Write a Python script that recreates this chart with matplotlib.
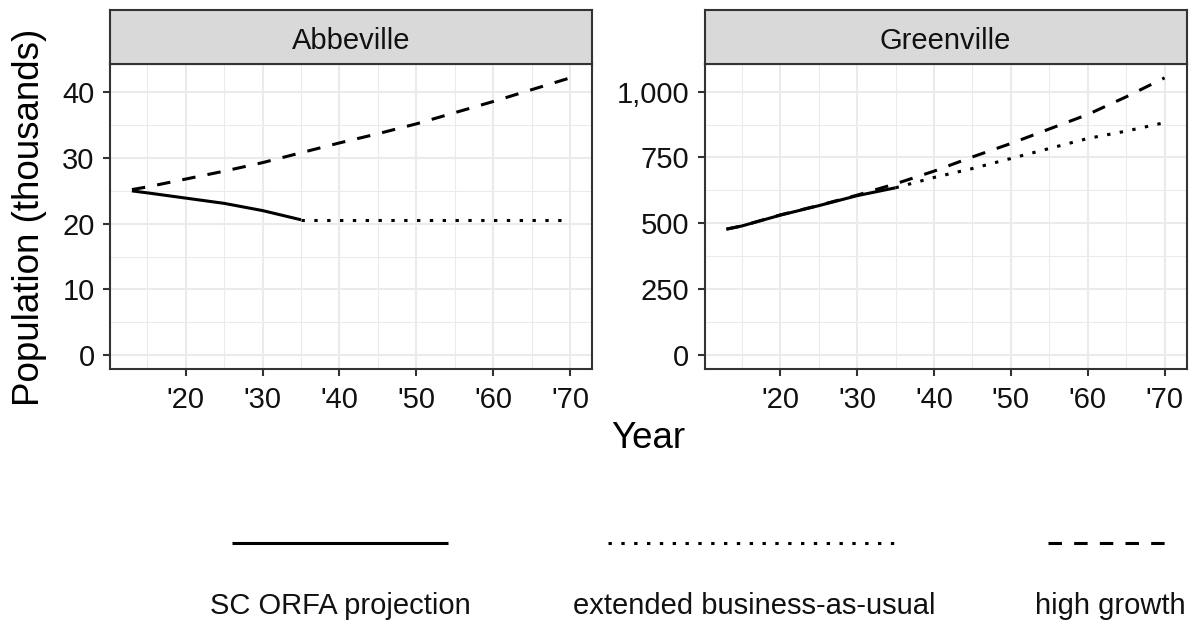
import matplotlib
matplotlib.use("Agg")
import matplotlib.pyplot as plt
from matplotlib.lines import Line2D
from matplotlib.ticker import FuncFormatter, MultipleLocator
import numpy as np

plt.rcParams['font.family'] = ['Liberation Sans', 'DejaVu Sans']

# data (population, thousands)
years_orfa = [2013, 2015, 2020, 2025, 2030, 2035]
years_bau = [2035, 2040, 2045, 2050, 2055, 2060, 2065, 2070]
years_high = [2013, 2015, 2020, 2025, 2030, 2035, 2040, 2045, 2050, 2055, 2060, 2065, 2070]

abb_orfa = [25.0, 24.7, 23.9, 23.1, 22.0, 20.6]
abb_bau = [20.6, 20.6, 20.6, 20.6, 20.6, 20.6, 20.6, 20.6]
abb_high = [25.2, 25.6, 26.8, 28.0, 29.3, 30.8, 32.3, 33.7, 35.2, 36.9, 38.6, 40.4, 42.2]

grv_orfa = [478, 490, 531, 567, 605, 635]
grv_bau = [635, 674, 708, 746, 784, 822, 850, 882]
grv_high = [478, 490, 532, 568, 607, 650, 698, 752, 803, 858, 913, 980, 1052]

counties = ['Abbeville', 'Greenville']
panels = [(abb_orfa, abb_bau, abb_high, 10, 5),
          (grv_orfa, grv_bau, grv_high, 250, 125)]

xticks = [2020, 2030, 2040, 2050, 2060, 2070]
xtick_labels = ["'20", "'30", "'40", "'50", "'60", "'70"]
legend_labels = ['SC ORFA projection', 'extended business-as-usual', 'high growth']

W, H = 1191, 620
fig = plt.figure(figsize=(W / 100, H / 100), dpi=100)

dark = '#333333'
lw = 2.2
styles = [dict(linestyle='-'), dict(dashes=[1.1, 3.1]), dict(dashes=[4.4, 4.0])]

lefts = [110, 704.5]
for i, (orfa, bau, high, major, minor) in enumerate(panels):
    x0 = lefts[i] / W
    ax = fig.add_axes([x0, 1 - 369 / H, 482 / W, 305 / H])
    ax.plot(years_orfa, orfa, color='black', lw=lw, solid_capstyle='butt', **styles[0])
    ax.plot(years_bau, bau, color='black', lw=lw, dash_capstyle='butt', **styles[1])
    ax.plot(years_high, high, color='black', lw=lw, dash_capstyle='butt', **styles[2])

    xmin, xmax = min(years_high), max(years_high)
    xr = xmax - xmin
    ax.set_xlim(xmin - 0.05 * xr, xmax + 0.05 * xr)
    ymax = max(high)
    ax.set_ylim(-0.05 * ymax, 1.05 * ymax)

    ax.set_xticks(xticks)
    ax.set_xticklabels(xtick_labels)
    ax.xaxis.set_minor_locator(MultipleLocator(10, offset=5))
    ax.yaxis.set_major_locator(MultipleLocator(major))
    ax.yaxis.set_minor_locator(MultipleLocator(major, offset=minor))
    ax.yaxis.set_major_formatter(FuncFormatter(lambda v, p: f'{v:,.0f}'))

    ax.grid(which='major', color='#EBEBEB', lw=1.5)
    ax.grid(which='minor', color='#EBEBEB', lw=0.75)
    ax.set_axisbelow(True)
    for s in ax.spines.values():
        s.set_color(dark)
        s.set_linewidth(1.5)
    ax.tick_params(which='major', length=5, width=1.5, color=dark,
                   labelsize=21, labelcolor='#111111')
    ax.tick_params(axis='y', pad=6)
    ax.tick_params(axis='x', pad=7)
    ax.tick_params(which='minor', length=0)

    # facet strip
    sax = fig.add_axes([x0, 1 - 64 / H, 482 / W, 54.5 / H])
    sax.set_facecolor('#D9D9D9')
    sax.set_xticks([])
    sax.set_yticks([])
    for s in sax.spines.values():
        s.set_color(dark)
        s.set_linewidth(1.5)
    sax.text(0.5, 0.42, counties[i], ha='center', va='center', fontsize=21,
             color='#111111', transform=sax.transAxes)

fig.text(648 / W, 1 - 438 / H, 'Year', ha='center', va='center', fontsize=26.5)
fig.text(30 / W, 1 - 217 / H, 'Population (thousands)', ha='center', va='center',
         rotation=90, fontsize=26.5)

# legend: keys above labels
key_spans = [(232, 448), (608, 897), (1048, 1165)]
label_centers = [340, 754, 1110]
for (a, b), c, lab, st in zip(key_spans, label_centers, legend_labels, styles):
    ln = Line2D([a / W, b / W], [1 - 543 / H, 1 - 543 / H], transform=fig.transFigure,
                color='black', lw=lw, solid_capstyle='butt', dash_capstyle='butt', **st)
    fig.add_artist(ln)
    fig.text(c / W, 1 - 606 / H, lab, ha='center', va='center', fontsize=21, color='#111111')

fig.savefig('out.png', dpi=100)
